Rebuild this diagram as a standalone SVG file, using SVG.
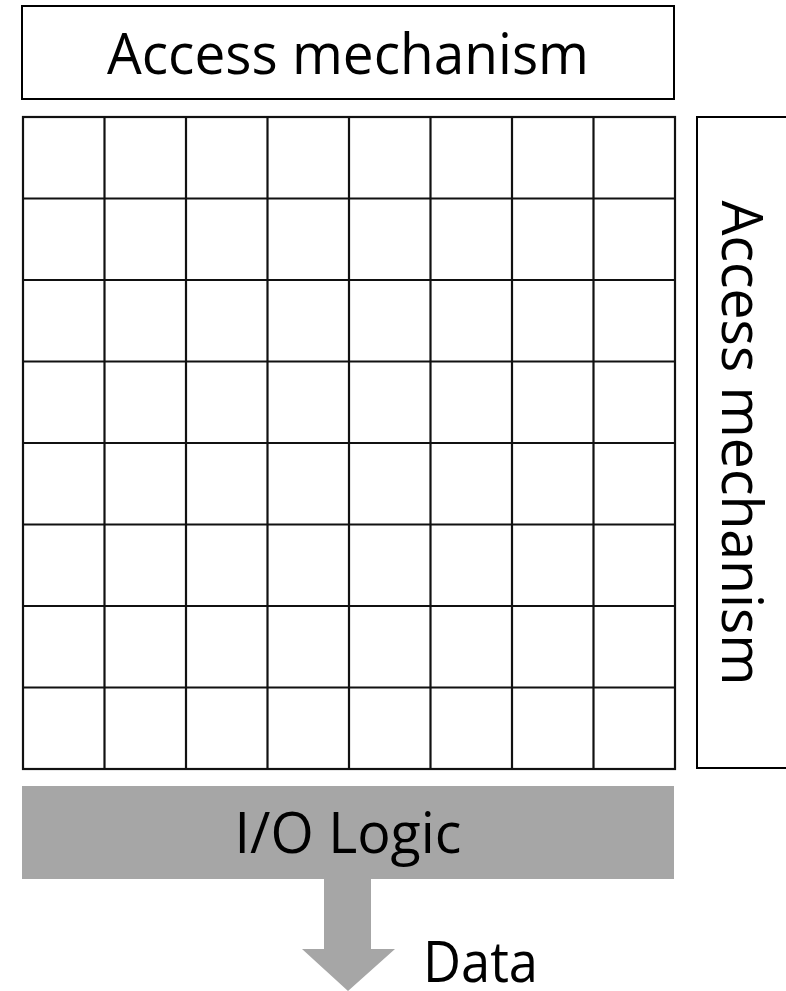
<svg xmlns="http://www.w3.org/2000/svg" width="786" height="991" viewBox="0 0 786 991">
  <style>
    .box { fill: #ffffff; stroke: #000000; stroke-width: 2; }
    .grid line { stroke: #111111; stroke-width: 2.2; }
    .label { font-family: "Open Sans", "Noto Sans", "Liberation Sans", sans-serif; font-size: 56px; fill: #000000; }
    .io { fill: #a6a6a6; }
  </style>
  <rect width="786" height="991" fill="#ffffff"/>

  <!-- row access mechanism -->
  <g id="access-top">
    <rect class="box" x="22" y="6" width="652" height="93"/>
    <text class="label" x="348" y="74" text-anchor="middle" textLength="482" lengthAdjust="spacingAndGlyphs">Access mechanism</text>
  </g>

  <!-- column access mechanism -->
  <g id="access-side">
    <rect class="box" x="697" y="117" width="100" height="651"/>
    <text class="label" transform="translate(722,443) rotate(90)" x="0" y="0" text-anchor="middle" textLength="485" lengthAdjust="spacingAndGlyphs">Access mechanism</text>
  </g>

  <!-- 8x8 cell array -->
  <g id="cell-array" class="grid">
    <rect x="23" y="117" width="652" height="652" fill="#ffffff" stroke="#111111" stroke-width="2.2"/>
    <line x1="104.5" y1="117" x2="104.5" y2="769"/>
    <line x1="186" y1="117" x2="186" y2="769"/>
    <line x1="267.5" y1="117" x2="267.5" y2="769"/>
    <line x1="349" y1="117" x2="349" y2="769"/>
    <line x1="430.5" y1="117" x2="430.5" y2="769"/>
    <line x1="512" y1="117" x2="512" y2="769"/>
    <line x1="593.5" y1="117" x2="593.5" y2="769"/>
    <line x1="23" y1="198.5" x2="675" y2="198.5"/>
    <line x1="23" y1="280" x2="675" y2="280"/>
    <line x1="23" y1="361.5" x2="675" y2="361.5"/>
    <line x1="23" y1="443" x2="675" y2="443"/>
    <line x1="23" y1="524.5" x2="675" y2="524.5"/>
    <line x1="23" y1="606" x2="675" y2="606"/>
    <line x1="23" y1="687.5" x2="675" y2="687.5"/>
  </g>

  <!-- I/O logic block -->
  <g id="io-logic">
    <rect class="io" x="22" y="786" width="652" height="93"/>
    <text class="label" x="348" y="853" text-anchor="middle" textLength="227" lengthAdjust="spacingAndGlyphs">I/O Logic</text>
  </g>

  <!-- data output arrow -->
  <g id="connectors">
    <polygon class="io" points="324,879 371,879 371,949 395,949 348,991 302,949 324,949"/>
  </g>
  <g id="data-label">
    <text class="label" x="423" y="982" textLength="115" lengthAdjust="spacingAndGlyphs">Data</text>
  </g>
</svg>
